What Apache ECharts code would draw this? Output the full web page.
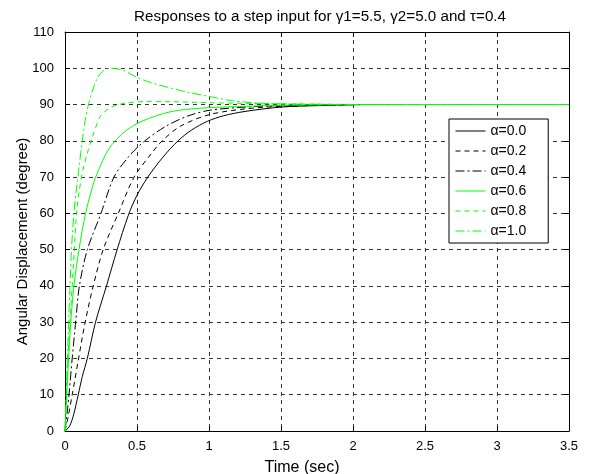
<!DOCTYPE html>
<html><head><meta charset="utf-8">
<script src="https://cdn.jsdelivr.net/npm/echarts@6/dist/echarts.min.js"></script>
<style>html,body{margin:0;padding:0;background:#fff}#c{width:589px;height:474px}</style>
</head><body><div id="c"></div>
<script>
// ---- data (time in sec, angular displacement in degree) ----
const legendNames = ['α=0.0', 'α=0.2', 'α=0.4', 'α=0.6', 'α=0.8', 'α=1.0'];

const alpha00 = [[0,0],[0.03,1.2],[0.06,4.5],[0.092,10],[0.12,15],[0.155,20],[0.212,30],[0.288,40],[0.362,50],[0.44,59.5],[0.5,65],[0.575,70],[0.68,75.5],[0.785,80],[0.88,83],[0.99,85.4],[1.1,86.9],[1.25,88.1],[1.5,89.3],[1.75,89.7],[2.05,90]];
const alpha02 = [[0,0],[0.02,3.5],[0.05,10],[0.09,19],[0.135,29],[0.19,39],[0.265,50],[0.37,60],[0.48,70],[0.6,76.5],[0.675,80],[0.8,84],[1.0,87.2],[1.25,88.8],[1.5,89.5],[2.05,90]];
const alpha04 = [[0,0],[0.015,5],[0.028,10],[0.05,20],[0.074,30],[0.1,40],[0.155,50],[0.25,60],[0.34,70],[0.45,76],[0.555,80],[0.7,84],[0.85,86.8],[1.0,88.4],[1.25,89.3],[1.5,89.7],[2.05,90]];
const alpha06 = [[0,0],[0.012,10],[0.025,20],[0.04,30],[0.062,40],[0.097,50],[0.143,60],[0.2,68.5],[0.25,73.5],[0.3,77.5],[0.36,80.5],[0.43,83],[0.54,85.5],[0.73,88],[0.94,89],[1.25,89.5],[1.5,89.8],[2.0,89.95],[3.5,90]];
const alpha08 = [[0,0],[0.01,10],[0.02,20],[0.035,30],[0.05,40],[0.065,50],[0.08,60],[0.098,66],[0.125,72],[0.152,76.2],[0.19,81],[0.245,86.7],[0.3,88.8],[0.34,89.6],[0.42,90.4],[0.55,90.8],[0.7,90.8],[1.0,90.5],[1.5,90.2],[2.0,90.05],[3.5,90]];
const alpha10 = [[0,0],[0.008,10],[0.017,20],[0.025,30],[0.035,40],[0.045,50],[0.062,60],[0.08,67],[0.097,72.6],[0.12,80],[0.14,85.5],[0.16,89.5],[0.19,93.7],[0.225,97.3],[0.27,99.5],[0.32,100],[0.4,99.5],[0.5,97.5],[0.6,96],[0.73,94.6],[0.85,93.4],[0.98,92.4],[1.17,91],[1.4,90.3],[1.7,90.1],[2.1,90],[3.5,90]];

const seriesData = [alpha00, alpha02, alpha04, alpha06, alpha08, alpha10];
const seriesColors = ['#000000', '#000000', '#000000', '#00ff00', '#00ff00', '#00ff00'];
const seriesDash = ['solid', [5, 4], [9, 3, 2, 3], 'solid', [5, 4], [9, 3, 2, 3]];

const xMin = 0, xMax = 3.5, xStep = 0.5;
const yMin = 0, yMax = 110, yStep = 10;

const FONT = 'Liberation Sans, Arial, sans-serif';
const chart = echarts.init(document.getElementById('c'), null, {renderer: 'canvas'});

const frameAxis = {
  axisLine: {show: true, onZero: false, lineStyle: {color: '#000', width: 1}},
  axisTick: {show: true, inside: true, length: 5, lineStyle: {color: '#000'}},
  axisLabel: {show: false},
  splitLine: {show: false}
};

chart.setOption({
  backgroundColor: '#fff',
  animation: false,
  title: {
    text: 'Responses to a step input for γ1=5.5, γ2=5.0 and τ=0.4',
    left: 315, top: 4, textAlign: 'center',
    textStyle: {fontFamily: FONT, fontSize: 15.2, fontWeight: 'normal', color: '#000'}
  },
  grid: {left: 65, right: 20, top: 32, bottom: 43, containLabel: false, outerBoundsMode: 'none'},
  legend: {
    orient: 'vertical',
    left: 449, top: 119,
    data: legendNames,
    itemWidth: 30, itemHeight: 14, itemGap: 6,
    padding: [5, 22, 5, 6],
    backgroundColor: '#fff',
    borderColor: '#000', borderWidth: 1, borderRadius: 0,
    itemStyle: {opacity: 0},
    lineStyle: {width: 1},
    textStyle: {fontFamily: FONT, fontSize: 14, color: '#000'}
  },
  xAxis: [
    {
      type: 'value', min: xMin, max: xMax, interval: xStep,
      name: 'Time (sec)', nameLocation: 'middle', nameGap: 29, nameMoveOverlap: false,
      nameTextStyle: {fontFamily: FONT, fontSize: 16, color: '#000', padding: [0, 30, 0, 0]},
      axisLine: {show: true, onZero: false, lineStyle: {color: '#000', width: 1}},
      axisTick: {show: true, inside: true, length: 5, lineStyle: {color: '#000'}},
      axisLabel: {fontFamily: FONT, fontSize: 13, color: '#000', margin: 9},
      splitLine: {show: true, lineStyle: {color: '#333', type: [4, 4], width: 1}}
    },
    Object.assign({type: 'value', position: 'top', min: xMin, max: xMax, interval: xStep}, frameAxis)
  ],
  yAxis: [
    {
      type: 'value', min: yMin, max: yMax, interval: yStep,
      name: 'Angular Displacement (degree)', nameLocation: 'middle', nameGap: 35, nameMoveOverlap: false,
      nameTextStyle: {fontFamily: FONT, fontSize: 15, color: '#000', padding: [0, 20, 0, 0]},
      axisLine: {show: true, onZero: false, lineStyle: {color: '#000', width: 1}},
      axisTick: {show: true, inside: true, length: 5, lineStyle: {color: '#000'}},
      axisLabel: {fontFamily: FONT, fontSize: 13, color: '#000', margin: 11},
      splitLine: {show: true, lineStyle: {color: '#333', type: [4, 4], width: 1}}
    },
    Object.assign({type: 'value', position: 'right', min: yMin, max: yMax, interval: yStep}, frameAxis)
  ],
  series: seriesData.map((d, i) => ({
    name: legendNames[i],
    type: 'line',
    data: d,
    symbol: 'none',
    smooth: 0.3,
    clip: true,
    lineStyle: {color: seriesColors[i], width: 1, type: seriesDash[i]},
    itemStyle: {color: seriesColors[i]},
    z: 3
  }))
});
</script>
</body></html>
